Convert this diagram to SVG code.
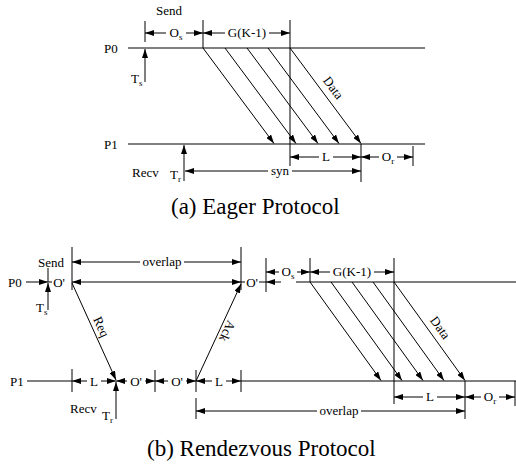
<svg xmlns="http://www.w3.org/2000/svg" width="516" height="466" viewBox="0 0 516 466">
  <defs>
    <marker id="ah" viewBox="0 0 9 6" refX="9" refY="3" markerWidth="9" markerHeight="6" markerUnits="userSpaceOnUse" orient="auto-start-reverse">
      <path d="M0,0 L9,3 L0,6 z" fill="#000"/>
    </marker>
  </defs>
  <style>
    line { stroke: #000; stroke-width: 1; fill: none; }
    .proc { stroke-width: 1.2; }
    .arr { marker-end: url(#ah); }
    .dbl { marker-start: url(#ah); marker-end: url(#ah); }
    text { font-family: "Liberation Serif", "Times New Roman", serif; font-size: 13px; fill: #000; }
    .mid { text-anchor: middle; }
    .title { font-size: 23px; }
    .sub { font-size: 9px; }
  </style>
  <rect width="516" height="466" fill="#fff"/>

  <!-- ===== (a) Eager protocol ===== -->
  <g id="eager">
    <g id="eager-p0">
      <text x="104" y="53">P0</text>
      <line class="proc" x1="128" y1="48" x2="425" y2="48"/>
      <text x="156" y="15">Send</text>
      <line x1="145" y1="21" x2="145" y2="42"/>
      <line x1="203" y1="20" x2="203" y2="48"/>
      <line x1="290" y1="20" x2="290" y2="166"/>
      <line class="arr" x1="166" y1="33" x2="145" y2="33"/>
      <line class="arr" x1="186" y1="33" x2="203" y2="33"/>
      <text class="mid" x="176" y="37">O<tspan class="sub" dy="3">s</tspan></text>
      <line class="arr" x1="225" y1="33" x2="203" y2="33"/>
      <line class="arr" x1="269" y1="33" x2="290" y2="33"/>
      <text class="mid" x="247" y="37">G(K-1)</text>
      <line class="arr" x1="145" y1="82" x2="145" y2="49"/>
      <text x="131" y="83">T<tspan class="sub" dy="3">s</tspan></text>
    </g>
    <g id="eager-p1">
      <text x="104" y="149">P1</text>
      <line class="proc" x1="128" y1="144" x2="425" y2="144"/>
      <line x1="361" y1="144" x2="361" y2="182"/>
      <line x1="413" y1="146" x2="413" y2="166"/>
      <line class="arr" x1="319" y1="157" x2="290" y2="157"/>
      <line class="arr" x1="333" y1="157" x2="361" y2="157"/>
      <text class="mid" x="326" y="161">L</text>
      <line class="arr" x1="379" y1="157" x2="361" y2="157"/>
      <line class="arr" x1="397" y1="157" x2="413" y2="157"/>
      <text class="mid" x="388" y="161">O<tspan class="sub" dy="3">r</tspan></text>
      <line class="arr" x1="184" y1="181" x2="184" y2="145"/>
      <text x="170" y="179">T<tspan class="sub" dy="3">r</tspan></text>
      <text x="132" y="177">Recv</text>
      <line class="arr" x1="268" y1="171" x2="185" y2="171"/>
      <line class="arr" x1="292" y1="171" x2="361" y2="171"/>
      <text class="mid" x="280" y="175">syn</text>
    </g>
    <g id="eager-data">
      <line class="arr" x1="203" y1="48" x2="274" y2="143.5"/>
      <line class="arr" x1="225" y1="48" x2="296" y2="143.5"/>
      <line class="arr" x1="247" y1="48" x2="318" y2="143.5"/>
      <line class="arr" x1="268" y1="48" x2="339" y2="143.5"/>
      <line class="arr" x1="290" y1="48" x2="361" y2="143.5"/>
      <text class="mid" transform="translate(333,88) rotate(53.5)" y="4">Data</text>
    </g>
    <text class="title" x="171" y="214">(a) Eager Protocol</text>
  </g>

  <!-- ===== (b) Rendezvous protocol ===== -->
  <g id="rendezvous">
    <g id="rdv-p0">
      <text x="38" y="267">Send</text>
      <text x="8" y="287">P0</text>
      <line class="arr" x1="26" y1="282" x2="48" y2="282"/>
      <line x1="48" y1="268" x2="48" y2="282"/>
      <line class="arr" x1="48" y1="310" x2="48" y2="283"/>
      <text x="36" y="312">T<tspan class="sub" dy="3">s</tspan></text>
      <line x1="48" y1="282" x2="52" y2="282"/>
      <text class="mid" x="59" y="287">O'</text>
      <line x1="72" y1="247" x2="72" y2="290"/>
      <line x1="241" y1="247" x2="241" y2="290"/>
      <line class="arr" x1="140" y1="262" x2="72" y2="262"/>
      <line class="arr" x1="184" y1="262" x2="241" y2="262"/>
      <text class="mid" x="162" y="266">overlap</text>
      <line class="dbl" x1="72" y1="282" x2="241" y2="282"/>
      <line x1="241" y1="282" x2="245" y2="282"/>
      <text class="mid" x="252" y="287">O'</text>
      <line x1="259" y1="282" x2="266" y2="282"/>
      <line class="arr" x1="281" y1="282" x2="266" y2="282"/>
      <line x1="266" y1="258" x2="266" y2="292"/>
      <line x1="310" y1="258" x2="310" y2="282"/>
      <line x1="394" y1="258" x2="394" y2="404"/>
      <line class="arr" x1="279" y1="272" x2="266" y2="272"/>
      <line class="arr" x1="297" y1="272" x2="310" y2="272"/>
      <text class="mid" x="288" y="276">O<tspan class="sub" dy="3">s</tspan></text>
      <line class="arr" x1="330" y1="272" x2="310" y2="272"/>
      <line class="arr" x1="374" y1="272" x2="394" y2="272"/>
      <text class="mid" x="352" y="276">G(K-1)</text>
      <line class="proc" x1="296" y1="282" x2="516" y2="282"/>
    </g>
    <g id="rdv-p1">
      <text x="10" y="386">P1</text>
      <line class="proc" x1="27" y1="381" x2="72" y2="381"/>
      <line x1="72" y1="369" x2="72" y2="392"/>
      <line x1="155" y1="370" x2="155" y2="392"/>
      <line x1="196" y1="370" x2="196" y2="392"/>
      <line x1="241" y1="370" x2="241" y2="392"/>
      <line class="arr" x1="87" y1="381" x2="72" y2="381"/>
      <line class="arr" x1="101" y1="381" x2="116" y2="381"/>
      <text class="mid" x="94" y="385.5">L</text>
      <line class="arr" x1="127" y1="381" x2="116" y2="381"/>
      <line class="arr" x1="145" y1="381" x2="155" y2="381"/>
      <text class="mid" x="136" y="385.5">O'</text>
      <line class="arr" x1="168" y1="381" x2="155" y2="381"/>
      <line class="arr" x1="186" y1="381" x2="196" y2="381"/>
      <text class="mid" x="177" y="385.5">O'</text>
      <line class="arr" x1="212" y1="381" x2="196" y2="381"/>
      <line class="arr" x1="226" y1="381" x2="241" y2="381"/>
      <text class="mid" x="219" y="385.5">L</text>
      <line class="proc" x1="241" y1="381" x2="516" y2="381"/>
      <line class="arr" x1="116" y1="419" x2="116" y2="382"/>
      <text x="102" y="420">T<tspan class="sub" dy="3">r</tspan></text>
      <text x="70" y="413">Recv</text>
      <line x1="465" y1="381" x2="465" y2="419"/>
      <line x1="515" y1="381" x2="515" y2="406"/>
      <line class="arr" x1="423" y1="397" x2="394" y2="397"/>
      <line class="arr" x1="437" y1="397" x2="465" y2="397"/>
      <text class="mid" x="430" y="401">L</text>
      <line class="arr" x1="481" y1="397" x2="465" y2="397"/>
      <line class="arr" x1="499" y1="397" x2="515" y2="397"/>
      <text class="mid" x="490" y="401">O<tspan class="sub" dy="3">r</tspan></text>
      <line x1="196" y1="398" x2="196" y2="419"/>
      <line class="arr" x1="317" y1="411" x2="196" y2="411"/>
      <line class="arr" x1="361" y1="411" x2="465" y2="411"/>
      <text class="mid" x="339" y="415">overlap</text>
    </g>
    <g id="rdv-messages">
      <line class="arr" x1="72" y1="283" x2="116" y2="380"/>
      <text class="mid" transform="translate(101,327) rotate(65.8)" y="4">Req</text>
      <line class="arr" x1="196" y1="381" x2="241" y2="284"/>
      <text class="mid" transform="translate(227,331) rotate(114.7)" y="4">Ack</text>
      <line class="arr" x1="310" y1="282" x2="381" y2="380.5"/>
      <line class="arr" x1="331" y1="282" x2="402" y2="380.5"/>
      <line class="arr" x1="352" y1="282" x2="423" y2="380.5"/>
      <line class="arr" x1="373" y1="282" x2="444" y2="380.5"/>
      <line class="arr" x1="394" y1="282" x2="465" y2="380.5"/>
      <text class="mid" transform="translate(440,328) rotate(54.4)" y="4">Data</text>
    </g>
    <text class="title" x="147" y="456">(b) Rendezvous Protocol</text>
  </g>
</svg>
